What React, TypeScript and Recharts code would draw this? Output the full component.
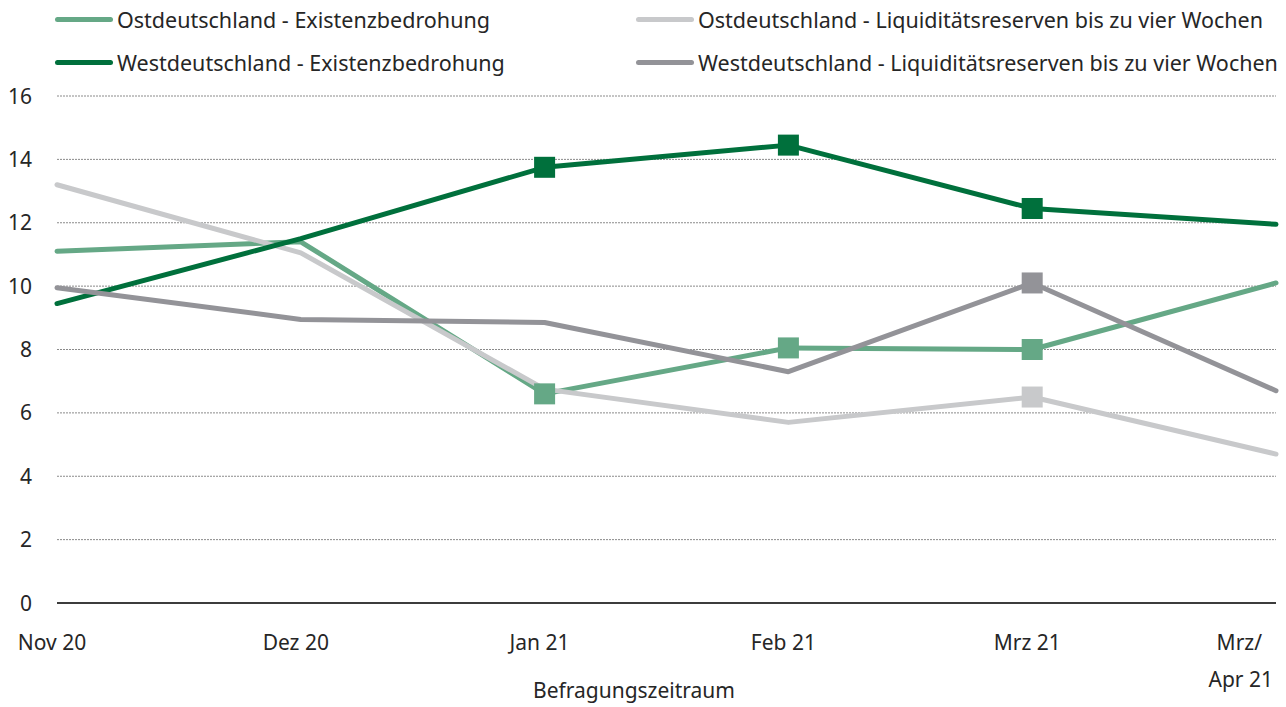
import React from 'react';
import { LineChart, Line, XAxis, YAxis, CartesianGrid } from 'recharts';

const periods = ['Nov 20', 'Dez 20', 'Jan 21', 'Feb 21', 'Mrz 21', 'Mrz/ Apr 21'];
const ostExistenz = [11.1, 11.4, 6.6, 8.05, 8.0, 10.1];
const westExistenz = [9.45, 11.5, 13.75, 14.45, 12.45, 11.95];
const ostLiquiditaet = [13.2, 11.05, 6.75, 5.7, 6.5, 4.7];
const westLiquiditaet = [9.95, 8.95, 8.85, 7.3, 10.1, 6.7];
const yTicks = [0, 2, 4, 6, 8, 10, 12, 14, 16];

// Perioden, an denen eine Reihe eine quadratische Markierung hat
const ostExistenzMarks = ['Jan 21', 'Feb 21', 'Mrz 21'];
const westExistenzMarks = ['Jan 21', 'Feb 21', 'Mrz 21'];
const ostLiquiditaetMarks = ['Mrz 21'];
const westLiquiditaetMarks = ['Mrz 21'];

const FONT = '"Noto Sans", sans-serif';
const TEXT = '#262626';

const series = [
  { key: 'ostExistenz', name: 'Ostdeutschland - Existenzbedrohung', color: '#65a886', marks: ostExistenzMarks },
  { key: 'ostLiquiditaet', name: 'Ostdeutschland - Liquiditätsreserven bis zu vier Wochen', color: '#c8c9cb', marks: ostLiquiditaetMarks },
  { key: 'westExistenz', name: 'Westdeutschland - Existenzbedrohung', color: '#00703c', marks: westExistenzMarks },
  { key: 'westLiquiditaet', name: 'Westdeutschland - Liquiditätsreserven bis zu vier Wochen', color: '#939398', marks: westLiquiditaetMarks },
];

const data = periods.map((p, i) => ({
  period: p,
  ostExistenz: ostExistenz[i],
  westExistenz: westExistenz[i],
  ostLiquiditaet: ostLiquiditaet[i],
  westLiquiditaet: westLiquiditaet[i],
}));

const makeDot = (color: string, marks: string[]) => (props: any) => {
  const { cx, cy, payload, index } = props;
  if (!marks.includes(payload.period)) return <g key={index} />;
  return <rect key={index} x={cx - 10.5} y={cy - 10.5} width={21} height={21} fill={color} />;
};

const XTick = (props: any) => {
  const { x, y, payload, index } = props;
  const last = index === periods.length - 1;
  if (last) {
    const parts = payload.value.split(' ');
    const a = parts[0];
    const b = parts.slice(1).join(' ');
    return (
      <text x={x - 3} y={y} textAnchor="end" fontSize={21} fill={TEXT} fontFamily={FONT}>
        <tspan x={x - 14} dy="1em">{a}</tspan>
        <tspan x={x - 3} dy="1.75em">{b}</tspan>
      </text>
    );
  }
  return (
    <text x={x - 5} y={y} dy="1em" textAnchor="middle" fontSize={21} fill={TEXT} fontFamily={FONT}>
      {payload.value}
    </text>
  );
};

const YTick = (props: any) => {
  const { y, payload } = props;
  return (
    <text x={32} y={y} dy="0.36em" textAnchor="end" fontSize={21} fill={TEXT} fontFamily={FONT}>
      {payload.value}
    </text>
  );
};

const legendPos = [
  { left: 55, top: 19 },
  { left: 636, top: 19 },
  { left: 55, top: 62 },
  { left: 636, top: 62 },
];

export default function App() {
  return (
    <div style={{ position: 'absolute', left: 0, top: 0, width: 1286, height: 707, background: '#fff', fontFamily: FONT }}>
      {series.map((s, i) => (
        <div
          key={s.key}
          style={{
            position: 'absolute',
            left: legendPos[i].left,
            top: legendPos[i].top - 15,
            height: 30,
            display: 'flex',
            alignItems: 'center',
            whiteSpace: 'nowrap',
            fontSize: 21.5,
            color: TEXT,
          }}
        >
          <span style={{ display: 'inline-block', width: 58, height: 5, borderRadius: 3, background: s.color, marginRight: 4 }} />
          {s.name}
        </div>
      ))}
      <LineChart width={1286} height={707} data={data} margin={{ top: 96, right: 10, bottom: 0, left: 0 }}>
        <CartesianGrid vertical={false} stroke="#8a8a8a" strokeDasharray="2 1" />
        <XAxis
          dataKey="period"
          height={104}
          tickLine={false}
          axisLine={{ stroke: '#3c3c3c', strokeWidth: 2 }}
          tick={<XTick />}
          interval={0}
          tickMargin={20}
        />
        <YAxis width={57} domain={[0, 16]} ticks={yTicks} axisLine={false} tickLine={false} tick={<YTick />} />
        {series.map((s) => (
          <Line
            key={s.key}
            type="linear"
            dataKey={s.key}
            name={s.name}
            stroke={s.color}
            strokeWidth={5}
            strokeLinecap="round"
            strokeLinejoin="round"
            dot={makeDot(s.color, s.marks)}
            activeDot={false}
            isAnimationActive={false}
          />
        ))}
      </LineChart>
      <div style={{ position: 'absolute', left: 0, width: 1268, top: 676, textAlign: 'center', fontSize: 21, color: TEXT }}>
        Befragungszeitraum
      </div>
    </div>
  );
}
